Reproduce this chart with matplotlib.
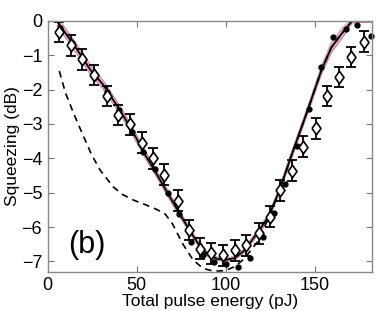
import numpy as np
import matplotlib
matplotlib.use('Agg')
import matplotlib.pyplot as plt

plt.rcParams['font.family'] = ['Liberation Sans', 'DejaVu Sans']

# measured squeezing (diamonds with error bars)
energy_meas = [6.5, 13.1, 19.4, 26.0, 33.1, 39.6, 46.2, 52.7, 59.3, 65.4, 73.0, 79.5, 85.5, 92.0,
               98.2, 105.0, 111.3, 118.6, 124.8, 130.6, 137.2, 143.4, 150.6, 156.9, 163.5, 170.2, 177.7]
sq_meas = [-0.32, -0.71, -1.12, -1.58, -2.19, -2.74, -3.01, -3.54, -4.0, -4.47, -5.23, -6.08, -6.63, -6.76,
           -6.82, -6.68, -6.53, -6.18, -5.70, -4.93, -4.36, -3.66, -3.13, -2.19, -1.63, -1.05, -0.61]
sq_err = 0.3

# simulated points (dots)
energy_sim = [7.0, 13.5, 20.0, 26.6, 33.2, 39.8, 47.1, 53.6, 60.2, 67.3, 73.8, 80.4, 87.3, 93.5,
              100.1, 107.0, 113.9, 121.0, 127.0, 133.5, 140.0, 146.8, 153.4, 160.3, 167.3, 173.7, 181.8]
sq_sim = [-0.2, -0.65, -1.15, -1.62, -2.08, -2.6, -3.23, -3.81, -4.32, -5.02, -5.62, -6.42, -6.81, -7.02,
          -7.07, -7.15, -6.91, -6.29, -5.6, -4.75, -3.65, -2.56, -1.34, -0.48, -0.25, -0.13, -0.43]

# theory curve (solid) and uncertainty band
energy_th = [5, 15, 24, 31, 40, 47, 55, 60, 67, 74, 80, 85, 90, 95, 100, 105, 110, 115, 120, 124,
             130, 137, 146, 154, 159.4, 165, 171, 182]
sq_th = [0.0, -0.72, -1.43, -1.85, -2.55, -3.15, -3.92, -4.35, -4.98, -5.6, -6.12, -6.52, -6.8, -6.92,
         -6.95, -6.9, -6.7, -6.36, -6.0, -5.7, -4.95, -3.9, -2.6, -1.4, -0.77, -0.38, 0.0, 0.0]
band_w = [0.14, 0.14, 0.14, 0.13, 0.12, 0.12, 0.11, 0.1, 0.1, 0.09, 0.08, 0.07, 0.06, 0.05,
          0.05, 0.05, 0.06, 0.07, 0.08, 0.08, 0.09, 0.1, 0.1, 0.12, 0.15, 0.15, 0.06, 0.04]

# dashed curve
energy_dash = [6.5, 10, 15, 20, 24.7, 29.4, 36.8, 42, 48, 55, 61, 66, 70, 76, 81.7, 87.3, 93, 99.5,
               105, 110.7, 113.5, 118, 124, 130, 137, 146, 154, 159.4, 165, 171]
sq_dash = [-1.46, -2.1, -2.75, -3.35, -3.9, -4.34, -4.83, -5.05, -5.21, -5.35, -5.48, -5.62, -5.9, -6.5,
           -6.96, -7.2, -7.28, -7.27, -7.15, -6.91, -6.71, -6.42, -5.75, -4.95, -3.9, -2.6, -1.4, -0.77, -0.38, 0.0]

fig = plt.figure(figsize=(3.82, 3.11), dpi=100)
ax = fig.add_axes([0.125, 0.126, 0.848, 0.807])

th = np.array(sq_th)
bw = np.array(band_w)
ax.fill_between(energy_th, th - bw, th + bw, color='#f0a8d0', lw=0)
ax.plot(energy_th, th - bw, color='#b07090', lw=0.5)
ax.plot(energy_th, th + bw, color='#b07090', lw=0.5)
ax.plot(energy_th, sq_th, color='black', lw=1.3)
ax.plot(energy_dash, sq_dash, color='black', lw=1.2, ls=(0, (4, 3)))
ax.plot(energy_sim, sq_sim, 'o', color='black', ms=3.5, clip_on=False)

# taller-than-wide diamond like the matlab one
diamond = [(-0.72, 0), (0, 1), (0.72, 0), (0, -1), (-0.72, 0)]
ax.errorbar(energy_meas, sq_meas, yerr=sq_err, fmt='none', ecolor='black', elinewidth=1.3,
            capsize=3.5, capthick=1.3)
ax.plot(energy_meas, sq_meas, ls='none', marker=diamond, mfc='white', mec='black', mew=1.2, ms=9)

ax.text(22, -6.52, '(b)', fontsize=22, ha='center', va='center')

ax.set_xlim(0, 182)
ax.set_ylim(-7.3, 0)
ax.set_xticks([0, 50, 100, 150])
ax.set_yticks([0, -1, -2, -3, -4, -5, -6, -7])
ax.tick_params(direction='in', top=True, right=True, labelsize=13, length=4, width=0.8,
               color='#777777', pad=4)
for s in ax.spines.values():
    s.set_color('#888888')
    s.set_linewidth(1.0)
ax.set_xlabel('Total pulse energy (pJ)', fontsize=12.5, labelpad=0)
ax.set_ylabel('Squeezing (dB)', fontsize=12.5, labelpad=1)

fig.savefig('out.png', dpi=100)
